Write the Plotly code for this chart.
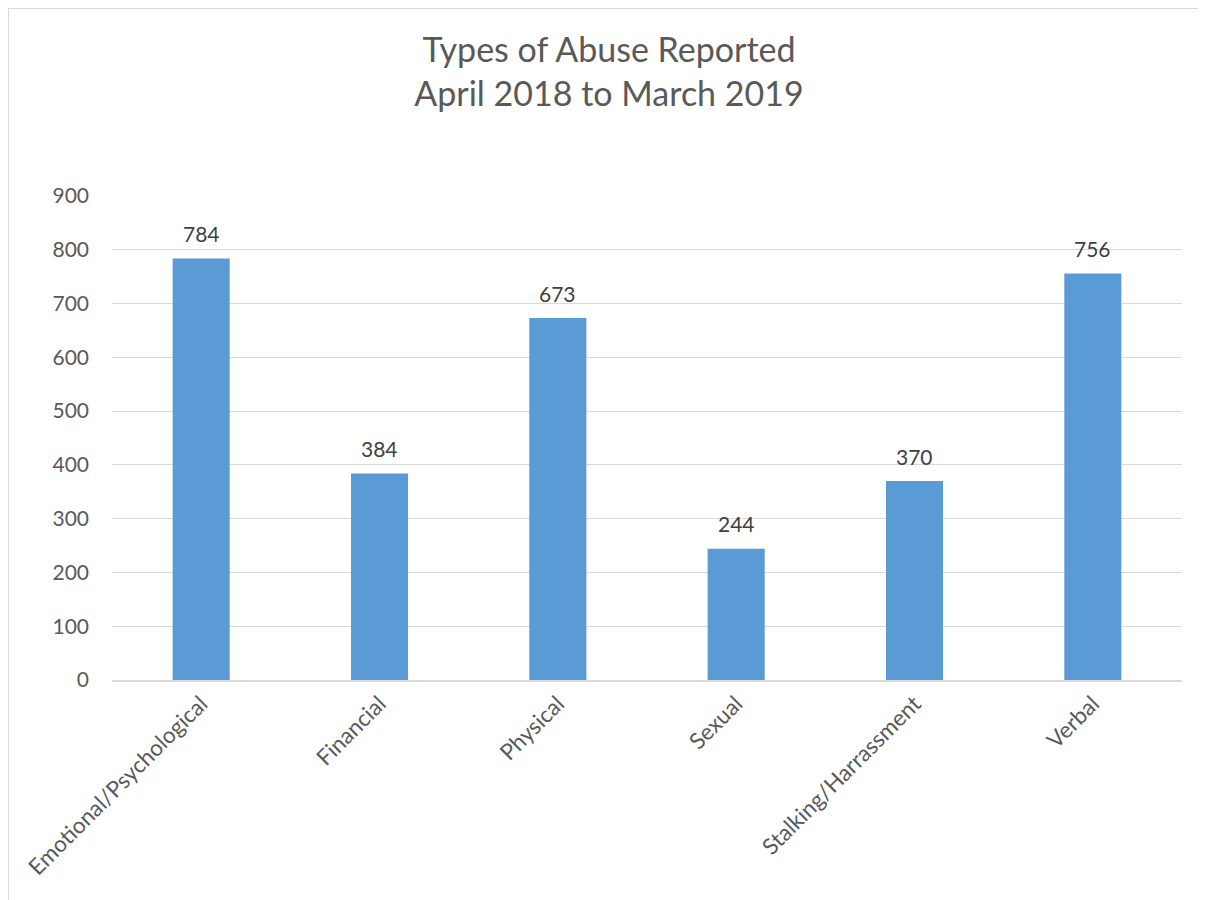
import plotly.graph_objects as go

categories = ["Emotional/Psychological", "Financial", "Physical", "Sexual",
              "Stalking/Harrassment", "Verbal"]
counts = [784, 384, 673, 244, 370, 756]
y_ticks = [0, 100, 200, 300, 400, 500, 600, 700, 800, 900]

FONT = "Lato, 'Open Sans', sans-serif"

fig = go.Figure(go.Bar(
    x=categories, y=counts,
    marker=dict(color="#5B9BD5", line=dict(width=0)),
    cliponaxis=False,
))

for c, v in zip(categories, counts):
    fig.add_annotation(x=c, y=v, text=str(v), showarrow=False,
                       yanchor="middle", yshift=25,
                       font=dict(size=21, color="#404040", family=FONT))

W, H = 1198, 892
L, R, T, B = 104, 24, 188, 220
pw, ph = W - L - R, H - T - B

fig.update_layout(
    width=W, height=H,
    margin=dict(l=L, r=R, t=T, b=B),
    paper_bgcolor="white", plot_bgcolor="white",
    font=dict(family=FONT, color="#595959"),
    title=dict(text="Types of Abuse Reported<br>April 2018 to March 2019",
               x=(609 - 8) / W, xanchor="center", y=(892 - 54) / 892, yanchor="top",
               font=dict(size=34, color="#595959", family=FONT)),
    bargap=0.68,
    showlegend=False,
    xaxis=dict(tickangle=-45, tickfont=dict(size=22.5, color="#595959"),
               showline=True, linecolor="#D9D9D9", linewidth=1.5,
               ticks="", showgrid=False),
    yaxis=dict(range=[0, 900], tickvals=y_ticks,
               tickfont=dict(size=21, color="#595959"),
               showgrid=True, gridcolor="#D9D9D9", gridwidth=1.3,
               zeroline=False, ticks="", ticklabelstandoff=22),
    shapes=[dict(type="rect", xref="paper", yref="paper",
                 x0=(0 - L) / pw, x1=(W + 20 - L) / pw,
                 y0=-(B + 20) / ph, y1=(H - B - 0) / ph,
                 line=dict(color="#D9D9D9", width=2), fillcolor="rgba(0,0,0,0)",
                 layer="below")],
)

fig.write_html("out.html")
